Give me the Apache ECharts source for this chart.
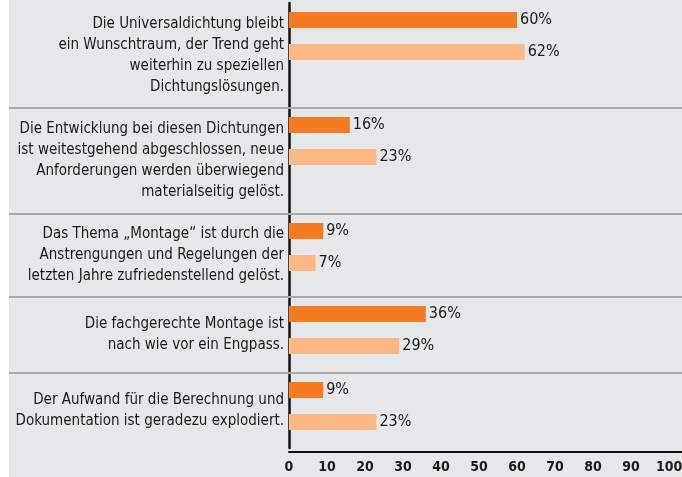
<!DOCTYPE html>
<html>
<head>
<meta charset="utf-8">
<script src="https://cdn.jsdelivr.net/npm/echarts@6/dist/echarts.min.js"></script>
<style>
  html, body { margin: 0; padding: 0; background: #fff; }
  #chart { margin-left: 9px; width: 673px; height: 477px; }
</style>
</head>
<body>
<div id="chart"></div>
<script>
// Aussagen (Kategorien)
var categories = [
  'Die Universaldichtung bleibt\nein Wunschtraum, der Trend geht\nweiterhin zu speziellen\nDichtungslösungen.',
  'Die Entwicklung bei diesen Dichtungen\nist weitestgehend abgeschlossen, neue\nAnforderungen werden überwiegend\nmaterialseitig gelöst.',
  'Das Thema „Montage“ ist durch die\nAnstrengungen und Regelungen der\nletzten Jahre zufriedenstellend gelöst.',
  'Die fachgerechte Montage ist\nnach wie vor ein Engpass.',
  'Der Aufwand für die Berechnung und\nDokumentation ist geradezu explodiert.'
];
var seriesDark = [60, 16, 9, 36, 9];
var seriesLight = [62, 23, 7, 29, 23];
var tickValues = [0, 10, 20, 30, 40, 50, 60, 70, 80, 90, 100];

// Zeilenaufteilung (ungleich hohe Bereiche)
var bandTop = [3, 108, 214, 297, 373];
var bandHeight = [105, 106, 83, 76, 75];

var FONT = "'DejaVu Sans Condensed', 'DejaVu Sans', sans-serif";
var AXIS_X = 280;
var XMAX = 103.4;

var grids = [], xAxes = [], yAxes = [], series = [];

// Textbereiche mit Trennlinien
for (var i = 0; i < categories.length; i++) {
  grids.push({ left: 0, right: 0, top: bandTop[i], height: bandHeight[i], outerBoundsMode: 'none' });
  xAxes.push({
    gridIndex: i, type: 'value', min: 0, max: 100,
    axisLine: { show: i < categories.length - 1, lineStyle: { color: '#a9a9a9', width: 2 } },
    axisTick: { show: false }, axisLabel: { show: false }, splitLine: { show: false }
  });
  yAxes.push({
    gridIndex: i, type: 'category', data: [categories[i]], offset: -AXIS_X,
    axisLine: { show: true, lineStyle: { color: '#111', width: 2.5 } },
    axisTick: { show: false },
    axisLabel: {
      fontFamily: FONT, fontSize: 15, lineHeight: 21, color: '#1a1a1a',
      align: 'right', margin: 5, padding: [5, 0, 0, 0]
    }
  });
}

// Balkenbereiche
for (var j = 0; j < categories.length; j++) {
  var g = grids.length;
  grids.push({ left: AXIS_X, right: 0, top: bandTop[j], height: 66, outerBoundsMode: 'none' });
  xAxes.push({ gridIndex: g, type: 'value', min: 0, max: XMAX, show: false });
  yAxes.push({ gridIndex: g, type: 'category', data: [categories[j]], inverse: true, show: false });
  var lbl = {
    show: true, position: 'right', distance: 3, formatter: '{c}%',
    fontFamily: FONT, fontSize: 16, color: '#1a1a1a'
  };
  series.push({
    name: 'Serie 1', type: 'bar', xAxisIndex: g, yAxisIndex: g,
    data: [seriesDark[j]], barWidth: 16, barGap: '100%',
    itemStyle: { color: '#f47b20' }, label: lbl, silent: true
  });
  series.push({
    name: 'Serie 2', type: 'bar', xAxisIndex: g, yAxisIndex: g,
    data: [seriesLight[j]], barWidth: 16, barGap: '100%',
    itemStyle: { color: '#fbb885' }, label: lbl, silent: true
  });
}

// untere Achse
var gf = grids.length;
grids.push({ left: AXIS_X, right: 0, top: 3, height: 449, outerBoundsMode: 'none' });
xAxes.push({
  gridIndex: gf, type: 'value', min: 0, max: XMAX, interval: 10,
  axisLine: { show: true, lineStyle: { color: '#111', width: 2 } },
  axisTick: { show: false }, splitLine: { show: false },
  axisLabel: {
    fontFamily: FONT, fontSize: 14, fontWeight: 'bold', color: '#1a1a1a', margin: 8,
    formatter: function (v) { return tickValues.indexOf(v) >= 0 ? String(v) : ''; }
  }
});
yAxes.push({ gridIndex: gf, type: 'value', show: false });

var chart = echarts.init(document.getElementById('chart'));
chart.setOption({
  backgroundColor: '#e6e7e8',
  animation: false,
  grid: grids,
  xAxis: xAxes,
  yAxis: yAxes,
  series: series
});
</script>
</body>
</html>
